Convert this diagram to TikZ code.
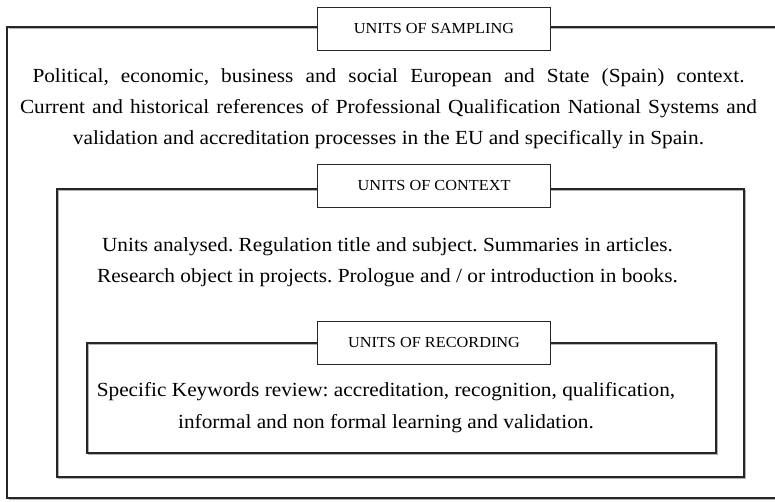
\documentclass[tikz,border=0pt]{standalone}
\usepackage{fontspec}
\setmainfont[FakeStretch=1.065]{Liberation Serif}
\usepackage{tikz}
\usetikzlibrary{positioning}
\frenchspacing

% a line spread out to a given width
\newcommand{\spreadline}[2]{\makebox[#1][s]{#2}}

\tikzset{
  frame/.style={draw=black!85, line width=1.4pt},
  frameshade/.style={draw=black!30, line width=1.4pt},
  tag/.style={draw=black!85, fill=white, line width=0.9pt, minimum width=233pt,
              minimum height=43pt, inner sep=0pt, font=\fontsize{15.3}{17}\selectfont},
  body/.style={align=center, inner sep=0pt, font=\fontsize{20}{31}\selectfont}
}

\begin{document}
\begin{tikzpicture}[x=1pt, y=-1pt]
  \useasboundingbox (0,0) rectangle (775,502);

  % outer frame (sampling), runs off the right side
  \draw[frameshade] (8.5,28.5) -- (790,28.5);
  \draw[frameshade] (8.5,499.5) -- (790,499.5);
  \draw[frame] (790,27) -- (7,27) -- (7,498) -- (790,498);

  % context frame
  \draw[frameshade] (58.5,190.5) rectangle (745.5,478.5);
  \draw[frame] (57,189) rectangle (744,477);

  % recording frame
  \draw[frameshade] (88.5,344.5) rectangle (717.5,454.5);
  \draw[frame] (87,343) rectangle (716,453);

  % labels sitting on the top edges
  \node[tag] (sampling) at (434,29) {UNITS OF SAMPLING};
  \node[tag] (context) at (434,186) {UNITS OF CONTEXT};
  \node[tag] (recording) at (434,343) {UNITS OF RECORDING};

  % frame contents
  \node[body, anchor=north] (samplingtxt) at (388.5,68)
    {\spreadline{712pt}{Political, economic, business and social European and State (Spain) context.}\\
     \spreadline{737pt}{Current and historical references of Professional Qualification National Systems and}\\
     validation and accreditation processes in the EU and specifically in Spain.};
  \node[body, anchor=north] (contexttxt) at (387.5,237)
    {Units analysed. Regulation title and subject. Summaries in articles.\\
     Research object in projects. Prologue and / or introduction in books.};
  \node[body, anchor=north, font=\fontsize{20}{32}\selectfont] (recordingtxt) at (386,382)
    {Specific Keywords review: accreditation, recognition, qualification,\\
     informal and non formal learning and validation.};
\end{tikzpicture}
\end{document}
